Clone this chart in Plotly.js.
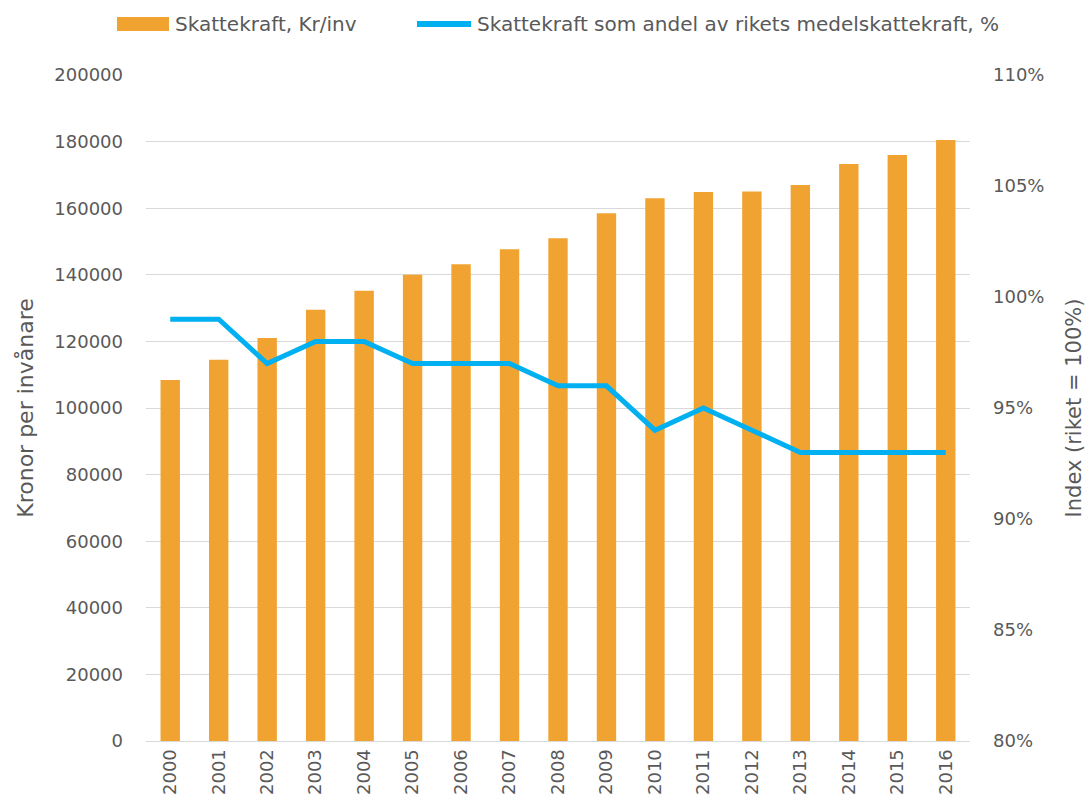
<!DOCTYPE html>
<html><head><meta charset="utf-8">
<script src="https://cdn.plot.ly/plotly-3.0.1.min.js"></script>
<style>html,body{margin:0;padding:0;background:#fff}#chart{width:1086px;height:805px}</style>
</head><body><div id="chart"></div>
<script>
const years = ['2000','2001','2002','2003','2004','2005','2006','2007','2008','2009','2010','2011','2012','2013','2014','2015','2016'];
const skattekraft = [108400,114500,121000,129500,135200,140000,143200,147700,151000,158500,163000,164900,165000,167000,173300,176000,180500];
const andel = [0.99,0.99,0.97,0.98,0.98,0.97,0.97,0.97,0.96,0.96,0.94,0.95,0.94,0.93,0.93,0.93,0.93];
const leftTicks = [0,20000,40000,60000,80000,100000,120000,140000,160000,180000,200000];
const rightTicks = [0.80,0.85,0.90,0.95,1.00,1.05,1.10];
const rightTickText = ['80%','85%','90%','95%','100%','105%','110%'];
const seriesNames = ['Skattekraft, Kr/inv', 'Skattekraft som andel av rikets medelskattekraft, %'];
const colors = ['#F0A331', '#00B0F0'];

const grey = '#595959';
const fam = 'DejaVu Sans, sans-serif';
const tickFont = {family: fam, size: 18, color: grey};
const legFont = {family: fam, size: 20, color: grey};

const data = [
  {type: 'bar', x: years, y: skattekraft, name: seriesNames[0],
   marker: {color: colors[0]}, yaxis: 'y'},
  {type: 'scatter', mode: 'lines', x: years, y: andel, yaxis: 'y2',
   name: seriesNames[1], line: {color: colors[1], width: 5}}
];

// custom legend (paper coordinates relative to the plot area)
const W = 824, H = 666, L = 146, T = 75;
const px = x => (x - L) / W;
const py = y => (T + H - y) / H;

const layout = {
  width: 1086, height: 805,
  margin: {l: 146, r: 116, t: 75, b: 64, autoexpand: false},
  paper_bgcolor: '#fff', plot_bgcolor: '#fff',
  bargap: 0.6,
  showlegend: false,
  shapes: [
    {type: 'rect', xref: 'paper', yref: 'paper', x0: px(117), x1: px(169), y0: py(31), y1: py(17),
     fillcolor: colors[0], line: {width: 0}},
    {type: 'line', xref: 'paper', yref: 'paper', x0: px(417), x1: px(471), y0: py(24), y1: py(24),
     line: {color: colors[1], width: 6, cap: 'round'}}
  ],
  annotations: [
    {xref: 'paper', yref: 'paper', x: px(173), y: py(24), xanchor: 'left', yanchor: 'middle',
     text: seriesNames[0], showarrow: false, font: legFont},
    {xref: 'paper', yref: 'paper', x: px(475), y: py(24), xanchor: 'left', yanchor: 'middle',
     text: seriesNames[1], showarrow: false, font: legFont}
  ],
  xaxis: {type: 'category', tickangle: -90, tickfont: tickFont, showgrid: false,
          showline: true, linecolor: '#d9d9d9', linewidth: 1, ticks: '', ticklen: 0},
  yaxis: {range: [0, 200000], tickvals: leftTicks, ticktext: leftTicks.map(String),
          tickfont: tickFont, gridcolor: '#d9d9d9', gridwidth: 1, zeroline: false,
          ticks: '', ticklabelstandoff: 22,
          title: {text: 'Kronor per invånare', font: {family: fam, size: 22, color: grey}, standoff: 14}},
  yaxis2: {overlaying: 'y', side: 'right', range: [0.80, 1.10], tickvals: rightTicks, ticktext: rightTickText,
           tickfont: tickFont, showgrid: false, zeroline: false, ticks: '', ticklabelstandoff: 22,
           title: {text: 'Index (riket = 100%)', font: {family: fam, size: 21, color: grey}, standoff: 23}}
};
Plotly.newPlot('chart', data, layout, {displayModeBar: false, responsive: false});
</script></body></html>
